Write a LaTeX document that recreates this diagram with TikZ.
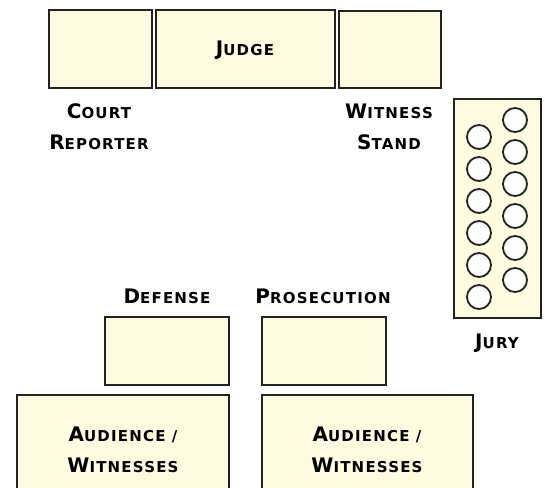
\documentclass[tikz,border=0pt]{standalone}
\usepackage{fontspec}
\setmainfont{DejaVu Sans}[LetterSpace=8]
\usepackage{tikz}
\usetikzlibrary{positioning}

\definecolor{cream}{HTML}{FFFBE1}
\definecolor{edge}{HTML}{222222}
\newcommand{\smcp}[2]{{\fontsize{20}{31}\selectfont #1}{\fontsize{15}{31}\selectfont #2}}
\tikzset{
  desk/.style={draw=edge, fill=cream, line width=2pt, inner sep=0pt},
  seat/.style={circle, draw=edge, fill=white, line width=1.8pt, minimum size=24pt, inner sep=0pt},
  lbl/.style={align=center, font=\bfseries\fontsize{20}{31}\selectfont, inner sep=0pt}
}

\begin{document}
\begin{tikzpicture}[x=1pt,y=-1pt]
            \clip (0,0) rectangle (545,487);
            % bench
            \draw[desk] (49,10) rectangle (152,88);
            \draw[desk] (156,10) rectangle (335,88);
            \draw[desk] (339,11) rectangle (441,88);
            \node[lbl] (judge) at (245,50) {\smcp{J}{UDGE}};
            \node[lbl] (reporter) at (99,127) {\smcp{C}{OURT}\\\smcp{R}{EPORTER}};
            \node[lbl] (stand) at (389,127) {\smcp{W}{ITNESS}\\\smcp{S}{TAND}};
            % jury box
            \draw[desk] (454,99) rectangle (541,318);
            \foreach \k in {0,...,5} {
                \node[seat] (seatL\k) at (479,137+32*\k) {};
                \node[seat] (seatR\k) at (515,120+32*\k) {};
            }
            \node[lbl] (jury) at (497,343) {\smcp{J}{URY}};
            % counsel tables
            \node[lbl] (defense) at (167,296) {\smcp{D}{EFENSE}};
            \node[lbl] (prosecution) at (323,296) {\smcp{P}{ROSECUTION}};
            \draw[desk] (105,317) rectangle (229,385);
            \draw[desk] (262,317) rectangle (386,385);
            % audience
            \draw[desk] (17,395) rectangle (229,500);
            \draw[desk] (262,395) rectangle (473,500);
            \node[lbl] (audL) at (123,450) {\smcp{A}{UDIENCE /}\\\smcp{W}{ITNESSES}};
            \node[lbl] (audR) at (367,450) {\smcp{A}{UDIENCE /}\\\smcp{W}{ITNESSES}};
        \end{tikzpicture}
\end{document}
